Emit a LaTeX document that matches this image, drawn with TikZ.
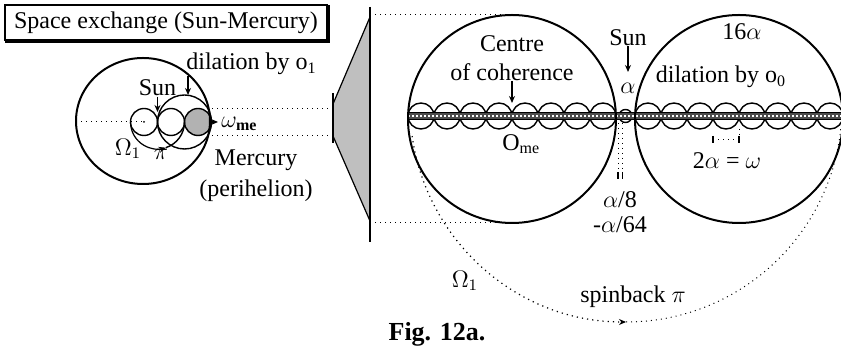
\documentclass[tikz,border=0pt]{standalone}
\usepackage{fontspec}
\setmainfont{Liberation Serif}
\usetikzlibrary{arrows.meta,positioning}

\begin{document}
\begin{tikzpicture}[
  x=0.5pt, y=-0.5pt,
  every node/.style={font=\fontsize{12}{14.5}\selectfont, inner sep=0pt},
  lbl/.style={align=center},
  ring/.style={line width=1pt},
  bead/.style={line width=0.7pt},
  guide/.style={dotted, line width=0.5pt},
  wall/.style={line width=1.2pt},
  tick/.style={line width=0.6pt},
  arrow/.style={-{Stealth[length=3.5pt,width=3pt]}, line width=0.6pt}
]
\useasboundingbox (0,0) rectangle (841,346);
\clip (0,0) rectangle (841,346);

\node[draw, line width=0.8pt, minimum width=161pt, minimum height=17.5pt] (title) at (166,22.5) {Space exchange (Sun-Mercury)};
\draw[line width=1.2pt] ([shift={(1,0.6)}]title.south west) -- ([shift={(0.6,0.6)}]title.south east) -- ([shift={(0.6,1)}]title.north east);

% small picture
\coordinate (orb) at (143,121);
\coordinate (sunc) at (144,122);
\coordinate (midc) at (171,122);
\coordinate (mec) at (198,122);
\coordinate (pivot) at (157.5,122);
\coordinate (dilc) at (184.5,122);
\fill[black!30] (mec) circle[radius=13.5];
\draw[ring] (orb) ellipse[x radius=67, y radius=63];
\draw[guide] (76,122) -- (sunc);
\fill (sunc) circle[radius=1];
\draw[bead] (sunc) circle[radius=13.5];
\draw[bead] (midc) circle[radius=13.5];
\draw[bead] (mec) circle[radius=13.5];
\draw[bead] (dilc) circle[radius=27];
\draw[bead, arrow] ([shift={(180:27)}]pivot) arc[start angle=180, end angle=72, radius=27];
\draw[bead] ([shift={(72:27)}]pivot) arc[start angle=72, end angle=0, radius=27];

\node[anchor=base] (sunl) at (157.5,96) {Sun};
\coordinate (sunltip) at (157.5,112);
\draw[arrow] (sunl) -- (sunltip);
\node[anchor=base west] (dill) at (186,70) {dilation by o\textsubscript{1}};
\coordinate (dilltip) at (188,95);
\draw[arrow] (dill.south west -| dilltip) -- (dilltip);
\coordinate (meedge) at (211,122);
\coordinate (metip) at (218,122);
\draw[arrow] (meedge) -- (metip);
\node[anchor=west] (omel) at (221,124) {$\omega_{\mathbf{me}}$};
\node[lbl, font=\fontsize{12}{15.5}\selectfont] (merc) at (256,176) {Mercury\\(perihelion)};
\node (oml) at (128,149) {$\Omega_1$};
\node (pil) at (161,154) {$\pi$};

% magnifier
\coordinate (metop) at (212,108.5);
\coordinate (mebot) at (212,135.5);
\coordinate (fun1) at (333,108.5);
\coordinate (fun2) at (333,135.5);
\draw[guide] (metop) -- (fun1);
\draw[guide] (mebot) -- (fun2);
\fill[black!25] (370,17) -- (333,104) -- (333,136) -- (370,221) -- cycle;
\draw[tick] (370,17) -- (333,104) (333,136) -- (370,221);
\draw[wall] (333,93) -- (333,143);
\draw[wall] (370,7) -- (370,242);

% large picture
\coordinate (coh) at (512,119);
\coordinate (dil0) at (739,119);
\coordinate (suns) at (625.5,116);
\draw[guide] (370,15) -- (512,15);
\draw[guide] (370,223) -- (512,223);
\foreach \k in {0,...,7} {
  \draw[bead] (421+26*\k,116) circle[radius=13];
  \draw[bead] (648+26*\k,116) circle[radius=13];
}
\draw[bead] (suns) circle[radius=6.5];
\fill[black!70] (408,112.5) rectangle (845,119.5);
\draw[white, line width=0.6pt, dash pattern=on 1pt off 1pt] (408,116) -- (845,116);
\draw[tick] (408,112.5) -- (845,112.5) (408,119.5) -- (845,119.5);
\draw[ring] (coh) circle[radius=104];
\draw[ring] (dil0) circle[radius=104];

\node[lbl] (centre) at (512,58) {Centre\\of coherence};
\coordinate (cohtip) at (512,103);
\draw[arrow] (centre) -- (cohtip);
\node[anchor=west] (omer) at (502,144) {O\textsubscript{me}};
\node (sunr) at (628,38) {Sun};
\coordinate (sunrtip) at (628,72);
\draw[arrow] (sunr) -- (sunrtip);
\node (alph) at (628,88) {$\alpha$};
\node (sixt) at (742,32) {16$\alpha$};
\node (dilr) at (721,77) {dilation by o\textsubscript{0}};
\node (twoa) at (727,161) {2$\alpha$ = $\omega$};
\node[lbl, font=\fontsize{12}{12.5}\selectfont] (frac) at (620,212.5) {$\alpha$/8\\-$\alpha$/64};

\draw[guide] (618,123) -- (618,172);
\draw[guide] (622.5,123) -- (622.5,172);
\draw[tick] (618,172) -- (618,179) (622.5,172) -- (622.5,179);
\draw[guide] (739,129) -- (739,143);
\draw[tick] (713,136) -- (713,143) (739,136) -- (739,143);
\draw[guide] (713,139.5) -- (739,139.5);

\coordinate (spinc) at (626,106);
\draw[guide, arrow] ([shift={(172:216)}]spinc) arc[start angle=172, end angle=90, radius=216];
\draw[guide] ([shift={(90:216)}]spinc) arc[start angle=90, end angle=5, radius=216];
\node (om2) at (465,281) {$\Omega_1$};
\node (spin) at (633,297) {spinback $\pi$};
\node[font=\fontsize{13}{15}\selectfont\bfseries] (fig) at (437,334) {Fig. 12a.};
\end{tikzpicture}
\end{document}
